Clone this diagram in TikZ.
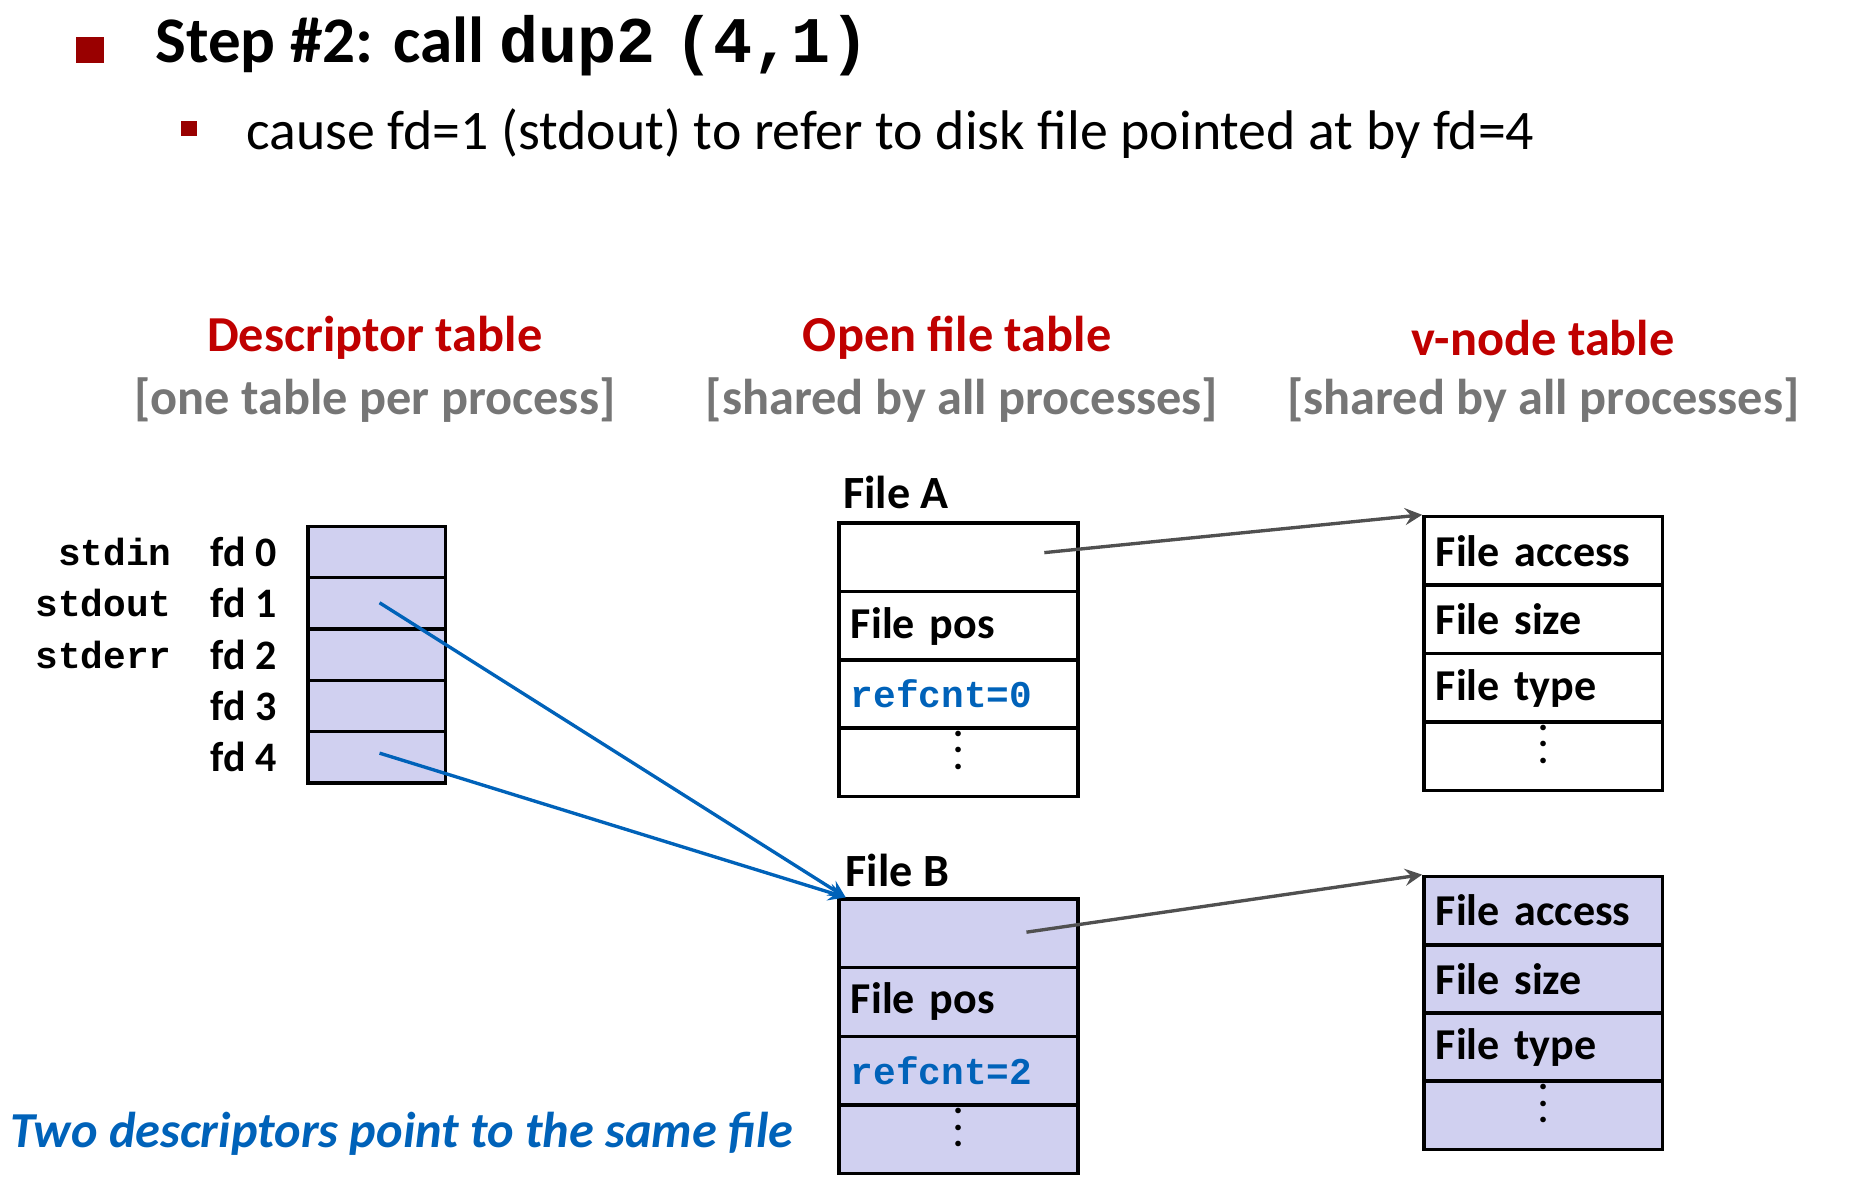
\documentclass[tikz,border=0pt]{standalone}
\usepackage{fontspec}
\setmainfont{Carlito}
\newfontfamily\codefont{Liberation Mono}
\usetikzlibrary{positioning}
\definecolor{darkred}{RGB}{153,0,0}
\definecolor{hdred}{RGB}{192,0,0}
\definecolor{hdgray}{RGB}{118,118,118}
\definecolor{lav}{RGB}{208,208,240}
\definecolor{ptrblue}{RGB}{0,98,185}
\definecolor{ptrgray}{RGB}{80,80,80}
\newcommand{\rowdots}{\raisebox{-0.4em}{\smash{$\vdots$}}}
\tikzset{
  fdcell/.style={draw,thick,fill=lav,minimum width=1.15cm,minimum height=0.43cm,inner sep=0pt},
  cell/.style={draw,thick,minimum width=2cm,minimum height=0.575cm,inner sep=0pt,text width=1.8cm,align=left,font=\bfseries\fontsize{10.5}{11}\selectfont},
  dots/.style={cell,align=center,font=\bfseries\fontsize{9}{9}\selectfont},
  head/.style={font=\bfseries\fontsize{12}{13}\selectfont,text=hdred},
  sub/.style={font=\bfseries\fontsize{12}{13}\selectfont,text=hdgray},
  lbl/.style={font=\bfseries\fontsize{10}{11}\selectfont},
  code/.style={font=\codefont\bfseries\fontsize{9}{10}\selectfont},
  ptr/.style={ptrblue,thick,-stealth},
  vptr/.style={ptrgray,thick,-stealth}
}
\begin{document}
\begin{tikzpicture}[x=0.01cm,y=-0.01cm]
\useasboundingbox (0,0) rectangle (1550,990);
% title
\fill[darkred] (64,31) rectangle (87,53);
\node[anchor=west,font=\bfseries\fontsize{15.5}{16}\selectfont] (title) at (118,38) {Step \#2: call {\codefont dup2\hspace{-0.3em} (4,1)}};
\fill[darkred] (152,101) rectangle (165,114);
\node[anchor=west,font=\fontsize{13.3}{14}\selectfont] (subtitle) at (194,112) {cause fd=1 (stdout) to refer to disk file pointed at by fd=4};
% headers
\node[head] (dth) at (314,283) {Descriptor table};
\node[sub] (dts) at (314,335) {[one table per process]};
\node[head] (oth) at (802,283) {Open file table};
\node[sub] (ots) at (806,335) {[shared by all processes]};
\node[head] (vth) at (1293,283) {v-node table};
\node[sub] (vts) at (1293,335) {[shared by all processes]};
% descriptor table
\foreach \i/\s in {0/stdin,1/stdout,2/stderr,3/,4/} {
  \node[fdcell] (fd\i) at (315.5,{462.5+43*\i}) {};
  \node[lbl,anchor=east] (fdl\i) at (244,{462.5+43*\i}) {fd \i};
  \node[code,anchor=east] (std\i) at (156,{462.5+43*\i}) {\s};
}
% file A
\node[lbl,anchor=west,font=\bfseries\fontsize{11}{12}\selectfont] (fa) at (694,413) {File A};
\node[cell] (fa0) at (803,467) {};
\node[cell] (fa1) at (803,524.5) {File pos};
\node[cell,code] (fa2) at (803,581.5) {\textcolor{ptrblue}{refcnt=0}};
\node[dots] (fa3) at (803,638.5) {\rowdots};
% file B
\node[lbl,anchor=west,font=\bfseries\fontsize{11}{12}\selectfont] (fb) at (696,729) {File B};
\node[cell,fill=lav] (fb0) at (803,782) {};
\node[cell,fill=lav] (fb1) at (803,839.5) {File pos};
\node[cell,fill=lav,code] (fb2) at (803,897) {\textcolor{ptrblue}{refcnt=2}};
\node[dots,fill=lav] (fb3) at (803,954.5) {\rowdots};
% v-node tables
\node[cell] (va0) at (1293,461.5) {File access};
\node[cell] (va1) at (1293,519) {File size};
\node[cell] (va2) at (1293,576.5) {File type};
\node[dots] (va3) at (1293,633.5) {\rowdots};
\node[cell,fill=lav] (vb0) at (1293,763) {File access};
\node[cell,fill=lav] (vb1) at (1293,820.5) {File size};
\node[cell,fill=lav] (vb2) at (1293,877.5) {File type};
\node[dots,fill=lav] (vb3) at (1293,934.5) {\rowdots};
% pointers
\coordinate (pa) at (875,463);
\coordinate (pb) at (860,781);
\draw[vptr] (pa) -- (va0.north west);
\draw[vptr] (pb) -- (vb0.north west);
\coordinate (p1) at (318,505);
\coordinate (p4) at (318,631);
\draw[ptr] (p1) -- ([xshift=2]fb0.north west);
\draw[ptr] (p4) -- ([xshift=2]fb0.north west);
\node[anchor=west,font=\bfseries\itshape\fontsize{12}{13}\selectfont,text=ptrblue] (note) at (-4,950) {Two descriptors point to the same file};
\end{tikzpicture}
\end{document}
